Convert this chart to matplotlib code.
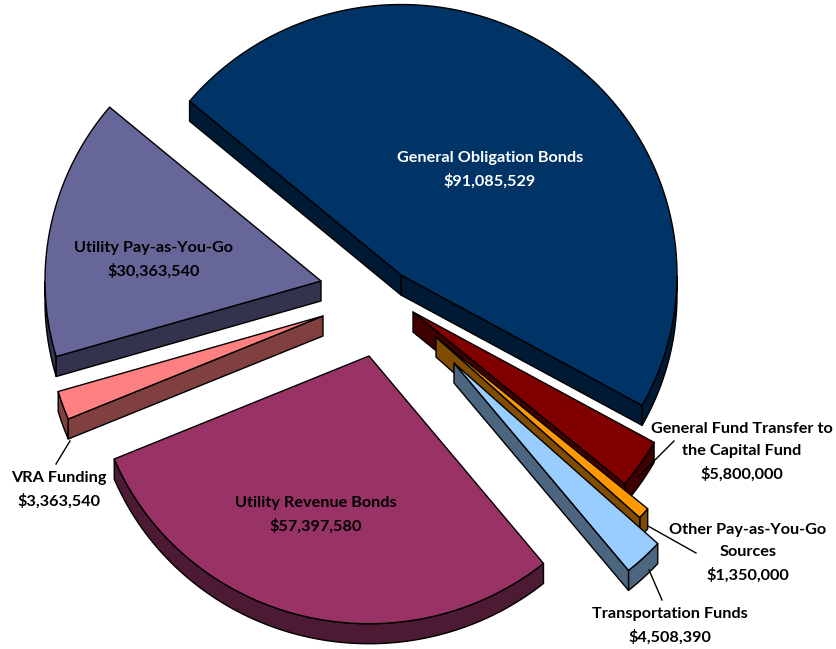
import numpy as np
from matplotlib import pyplot as plt
from matplotlib.patches import Polygon

plt.rcParams['font.family'] = ['Lato', 'DejaVu Sans']

names = ['General Obligation Bonds', 'General Fund Transfer to\nthe Capital Fund', 'Other Pay-as-You-Go\nSources',
         'Transportation Funds', 'Utility Revenue Bonds', 'VRA Funding', 'Utility Pay-as-You-Go']
values = [91085529, 5800000, 1350000, 4508390, 57397580, 3363540, 30363540]

top_colors = ['#003366', '#800000', '#ff9900', '#99ccff', '#993366', '#ff8080', '#666699']
side_colors = ['#001a33', '#400000', '#804c00', '#4d6680', '#4d1a33', '#804040', '#33334d']
text_colors = ['white', 'black', 'black', 'black', 'black', 'black', 'black']

# apex of each slice, in image pixels
apex_x = [401, 413, 436, 454, 369, 323, 321]
apex_y = [275, 312, 337, 363, 356, 316, 281]
label_x = [490, 742, 748, 670, 316, 59, 154]
label_y = [170, 452, 553, 626, 515, 490, 260]

# leader lines: label end, slice end
leaders = [((674, 441), (638, 477)), ((696, 553), (648, 526)), ((662, 600), (649, 570)), ((56, 464), (70, 441))]

radius = 276
back_squash = 0.98
front_squash = 0.97  # the near half of the pie is a bit flatter
depth = 20
start_angle = 140
height = 649

fig = plt.figure(figsize=(8.37, 6.49), dpi=100)
ax = fig.add_axes([0, 0, 1, 1])
ax.set_xlim(0, 837)
ax.set_ylim(0, height)
ax.axis('off')

sweeps = np.array(values) / sum(values) * 360
ends = start_angle - np.cumsum(sweeps)
starts = ends + sweeps


def rim(cx, cy, ts):
    s = np.sin(np.radians(ts))
    return cx + radius * np.cos(np.radians(ts)), cy + radius * s * np.where(s < 0, front_squash, back_squash)


def draw_slice(i):
    cx, cy = apex_x[i], height - apex_y[i]
    theta1, theta2 = ends[i], starts[i]
    style = dict(facecolor=side_colors[i], edgecolor='black', linewidth=1, joinstyle='round')
    ts = np.linspace(theta1, theta2, 300)
    xs, ys = rim(cx, cy, ts)

    # arc side, only the part on the lower half of the circle
    low = np.sin(np.radians(ts)) < 0
    if low.sum() > 1:
        pts = np.r_[np.c_[xs[low], ys[low]], np.c_[xs[low], ys[low] - depth][::-1]]
        ax.add_patch(Polygon(pts, closed=True, **style))

    # straight sides, if they face the viewer
    for t, normal in [(theta1, theta1 - 90), (theta2, theta2 + 90)]:
        if np.sin(np.radians(normal)) < 0:
            ex, ey = rim(cx, cy, np.array(t))
            ax.add_patch(Polygon([(cx, cy), (ex, ey), (ex, ey - depth), (cx, cy - depth)], closed=True, **style))

    top = np.r_[[(cx, cy)], np.c_[xs, ys]]
    ax.add_patch(Polygon(top, closed=True, facecolor=top_colors[i], edgecolor='black', linewidth=1, joinstyle='round'))


for i in range(len(values)):
    draw_slice(i)

for a, b in leaders:
    ax.plot([a[0], b[0]], [height - a[1], height - b[1]], color='black', linewidth=1)

for i in range(len(names)):
    ax.text(label_x[i], height - label_y[i], f'{names[i]}\n${values[i]:,}', ha='center', va='center',
            fontsize=11.7, fontweight='bold', color=text_colors[i], linespacing=1.7)

plt.savefig('out.png', dpi=100)
